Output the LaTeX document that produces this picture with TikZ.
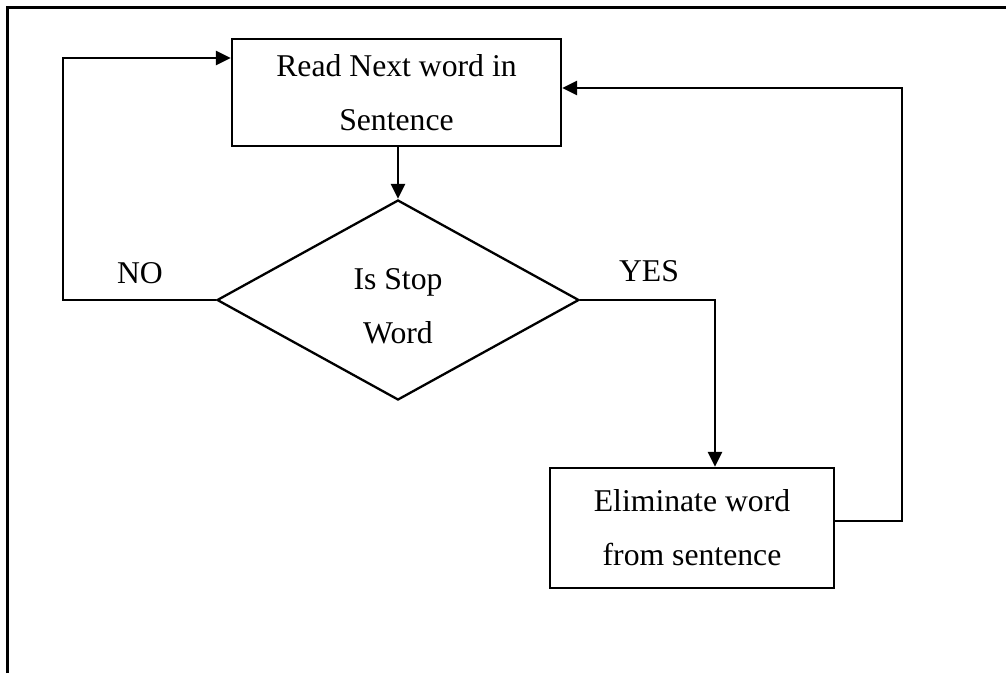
\documentclass[tikz,border=0pt]{standalone}
\usepackage{fontspec}
\setmainfont{Liberation Serif}
\usetikzlibrary{shapes.geometric,arrows.meta}
\begin{document}
\begin{tikzpicture}[x=1pt,y=-1pt,
  txt/.style={font=\fontsize{31.7}{54}\selectfont, align=center},
  procbox/.style={txt, draw, line width=2.3pt, rectangle, inner sep=0pt},
  decide/.style={draw, line width=2.3pt, diamond, inner sep=0pt,
    minimum width=362pt, minimum height=200pt},
  link/.style={line width=2.4pt},
  arr/.style={link, -{Triangle[length=15pt,width=14pt]}}]
  \useasboundingbox (0,0) rectangle (1006,673);
  % page frame
  \draw[line width=3pt] (7,673) -- (7,7) -- (1006,7);

  % steps
  \node[procbox, minimum width=329pt, minimum height=107pt] (read) at (396.5,92.5)
    {\rule{0pt}{6pt}Read Next word in\\Sentence};
  \node[decide] (stop) at (398,300) {};
  \node[txt] (stoptext) at (398,306) {Is Stop\\Word};
  \node[procbox, minimum width=284pt, minimum height=120pt] (elim) at (692,528)
    {Eliminate word\\from sentence};

  % bend points of the loops
  \coordinate (noturn) at (63,300);
  \coordinate (backturn) at (902,521);

  % connectors
  \draw[arr] (read.south -| stop.north) -- (stop.north);
  \draw[arr] (stop.east) -| ([xshift=23pt]elim.north);
  \draw[arr] (elim.east |- backturn) -- (backturn) |- ([yshift=4.5pt]read.east);
  \draw[arr] (stop.west) -- (noturn) |- ([yshift=34.5pt]read.west);

  % branch labels
  \node[txt] (nolab) at (140,273) {NO};
  \node[txt] (yeslab) at (649,271) {YES};
\end{tikzpicture}
\end{document}
